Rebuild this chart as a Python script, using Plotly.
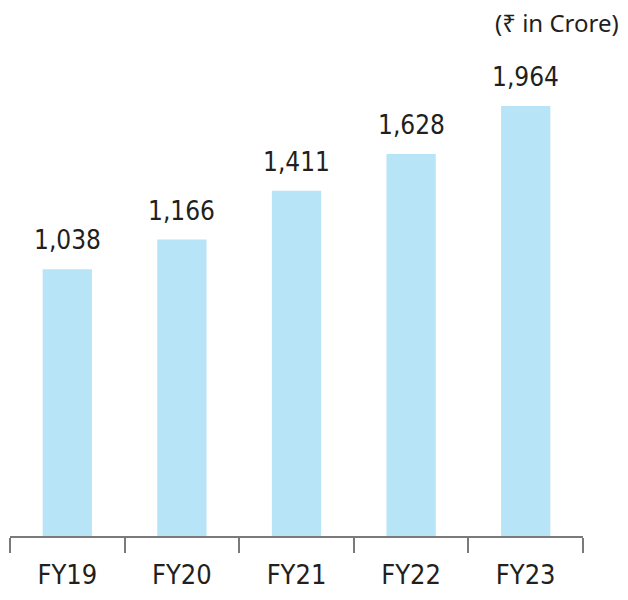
import numpy as np
import plotly.graph_objects as go

categories = ["FY19", "FY20", "FY21", "FY22", "FY23"]
values = [1038, 1166, 1411, 1628, 1964]
value_labels = ["1,038", "1,166", "1,411", "1,628", "1,964"]
unit_label = "(₹ in Crore)"

BAR_COLOR = "#B8E4F8"
TEXT_COLOR = "#231F20"
AXIS_COLOR = "#7A7A7A"
NARROW = "DejaVu Sans Condensed, DejaVu Sans, sans-serif"
REGULAR = "Noto Sans, DejaVu Sans, sans-serif"

fig = go.Figure()
fig.add_trace(go.Bar(
    x=categories, y=values,
    marker=dict(color=BAR_COLOR, line=dict(width=0)),
    hoverinfo="skip",
))

for c, v, lab in zip(categories, values, value_labels):
    fig.add_annotation(
        x=c, y=np.log10(v), xref="x", yref="y",
        text=lab, showarrow=False,
        yanchor="bottom", yshift=12,
        font=dict(family=NARROW, size=26, color=TEXT_COLOR),
    )

fig.add_annotation(
    xref="paper", yref="paper", x=1.066, y=1.043,
    xanchor="right", yanchor="top",
    text=unit_label, showarrow=False,
    font=dict(family=REGULAR, size=24, color=TEXT_COLOR),
)

fig.update_layout(
    width=612, height=584,
    margin=dict(l=2, r=37, t=18, b=43),
    paper_bgcolor="white", plot_bgcolor="white",
    bargap=0.57,
    showlegend=False,
    xaxis=dict(
        type="category",
        showline=True, linecolor=AXIS_COLOR, linewidth=2,
        ticks="outside", tickson="boundaries", ticklen=15,
        tickcolor=AXIS_COLOR, tickwidth=2,
        ticklabelstandoff=14,
        showgrid=False, zeroline=False,
        tickfont=dict(family=NARROW, size=27, color=TEXT_COLOR),
    ),
    yaxis=dict(
        type="log",
        range=[2.5639, 3.4289],
        visible=False, showgrid=False, zeroline=False,
    ),
)

fig.write_html("out.html")
